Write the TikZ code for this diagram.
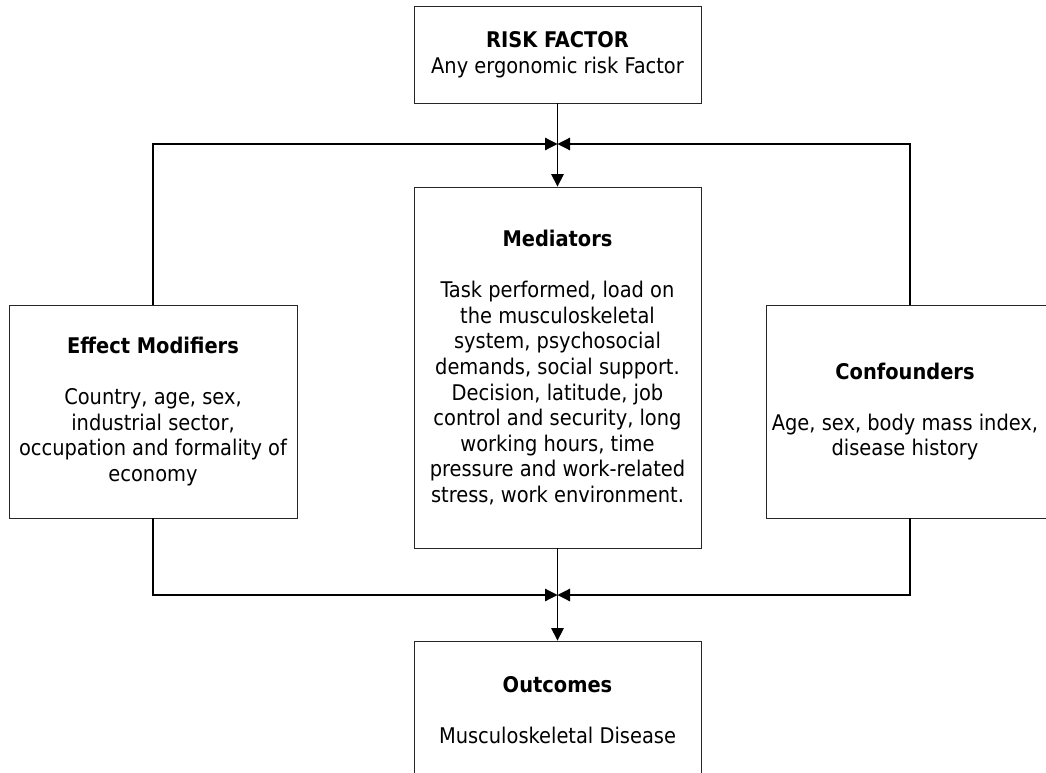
\documentclass[tikz,border=0pt]{standalone}
\usepackage{fontspec}
\setmainfont{DejaVu Sans Condensed}
\usetikzlibrary{arrows.meta}
\begin{document}
\begin{tikzpicture}[x=1pt,y=-1pt,
  txt/.style={align=center, inner sep=0pt, font=\fontsize{21.6}{25.6}\selectfont},
  box/.style={txt, draw=black!85, line width=0.8pt, fill=white},
  link/.style={line width=1.2pt, black},
  tip/.style={-{Triangle[length=12.5pt,width=12.5pt]}}]
\clip (0,0) rectangle (1046,773);
\useasboundingbox (0,0) rectangle (1046,773);

% boxes
\node[box, minimum width=287pt, minimum height=97pt] (risk) at (557.5,54.5)
  {\textbf{RISK FACTOR}\\Any ergonomic risk Factor};
\node[box, minimum width=287pt, minimum height=361pt] (med) at (557.5,367.5)
  {\textbf{Mediators}\\[25.6pt]
   Task performed, load on\\the musculoskeletal\\system, psychosocial\\
   demands, social support.\\Decision, latitude, job\\control and security, long\\
   working hours, time\\pressure and work-related\\stress, work environment.};
\node[box, minimum width=288pt, minimum height=213pt] (mod) at (153,411.5)
  {\textbf{Effect Modifiers}\\[25.6pt]
   Country, age, sex,\\industrial sector,\\occupation and formality of\\economy};
\node[box, minimum width=288pt, minimum height=213pt] (conf) at (910,411.5) {};
\node[txt] (conftext) at (905,411.5)
  {\textbf{Confounders}\\[25.6pt]
   Age, sex, body mass index,\\disease history};
\node[box, minimum width=287pt, minimum height=138pt] (out) at (557.5,710)
  {\textbf{Outcomes}\\[25.6pt]Musculoskeletal Disease};

% junction points on the central axis
\coordinate (jtop) at (557.5,144);
\coordinate (jbot) at (557.5,595);

% connectors
\draw[link,tip] (risk.south) -- (med.north);
\draw[link,tip] (med.south) -- (out.north);
\draw[link,tip] (mod.north) |- (jtop);
\draw[link,tip] (conf.north) |- (jtop);
\draw[link,tip] (mod.south) |- (jbot);
\draw[link,tip] (conf.south) |- (jbot);
\end{tikzpicture}
\end{document}
